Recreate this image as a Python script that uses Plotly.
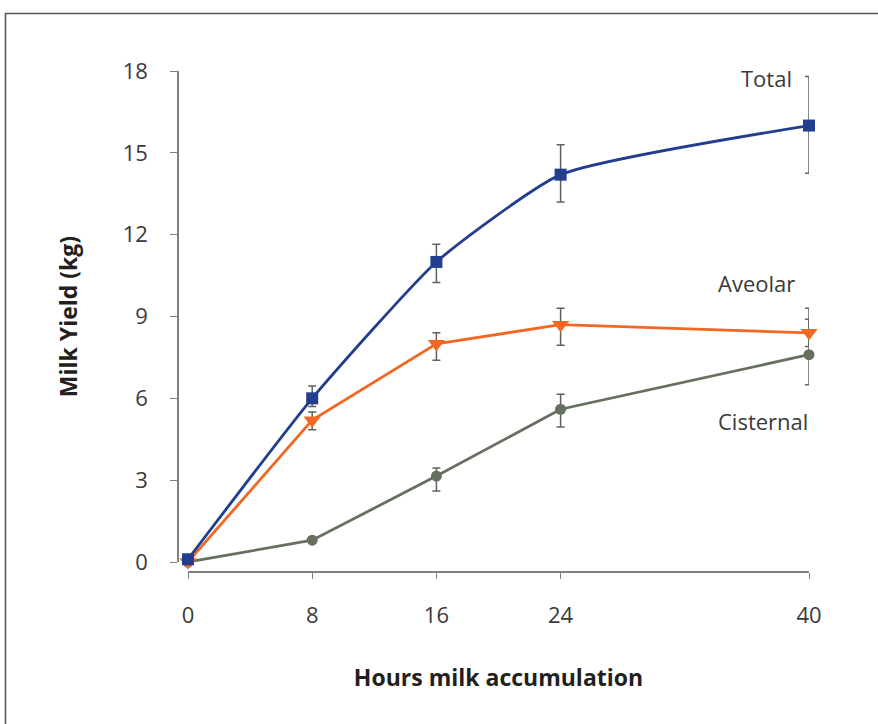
import plotly.graph_objects as go

hours = [0, 8, 16, 24, 40]

total = [0.1, 6.0, 11.0, 14.2, 16.0]
total_err_plus = [0.0, 0.45, 0.65, 1.1, 1.8]
total_err_minus = [0.0, 0.3, 0.75, 1.0, 1.75]

aveolar = [0.0, 5.2, 8.0, 8.7, 8.4]
aveolar_err_plus = [0.0, 0.3, 0.4, 0.6, 0.9]
aveolar_err_minus = [0.0, 0.35, 0.6, 0.75, 0.5]

cisternal = [0.0, 0.8, 3.15, 5.6, 7.6]
cisternal_err_plus = [0.0, 0.0, 0.3, 0.55, 1.3]
cisternal_err_minus = [0.0, 0.0, 0.55, 0.65, 1.1]

y_ticks = [0, 3, 6, 9, 12, 15, 18]
x_ticks = [0, 8, 16, 24, 40]
series_labels = ["Total", "Aveolar", "Cisternal"]

# page body margin is removed by post_script, so figure px == screenshot px
W, H = 878, 724
AX_LEFT, AX_RIGHT, AX_TOP, AX_BOTTOM = 178, 809, 71, 572
ML = AX_LEFT
MT = AX_TOP
MR = W - AX_RIGHT
MB = H - AX_BOTTOM
PW, PH = W - ML - MR, H - MT - MB


def px(x, y):
    """screenshot pixel -> paper fraction"""
    return (x - ML) / PW, (H - MB - y) / PH


BLUE = "#233e8e"
ORANGE = "#f26722"
GREY = "#66705f"
ERR = "#5b6457"
FONT = "Open Sans"

fig = go.Figure()


def add(y, ep, em, color, symbol, size, shape, smoothing=None, name=""):
    line = dict(color=color, width=2.8, shape=shape)
    if smoothing is not None:
        line["smoothing"] = smoothing
    fig.add_trace(go.Scatter(
        x=hours, y=y, mode="lines+markers", name=name,
        line=line,
        marker=dict(symbol=symbol, size=size, color=color),
        error_y=dict(type="data", symmetric=False, array=ep, arrayminus=em,
                     color=ERR, thickness=1.5, width=4),
        cliponaxis=False, showlegend=False,
    ))


add(cisternal, cisternal_err_plus, cisternal_err_minus, GREY, "circle", 11, "linear", name="Cisternal")
add(aveolar, aveolar_err_plus, aveolar_err_minus, ORANGE, "triangle-down", 15, "linear", name="Aveolar")
add(total, total_err_plus, total_err_minus, BLUE, "square", 12, "spline", 0.5, name="Total")

ann_pos = {"Total": (766, 78), "Aveolar": (756, 283), "Cisternal": (763, 421)}
for lab in series_labels:
    ax, ay = px(*ann_pos[lab])
    fig.add_annotation(x=ax, y=ay, xref="paper", yref="paper", text=lab,
                       showarrow=False, xanchor="center", yanchor="middle",
                       font=dict(family=FONT, size=22, color="#3a3a3a"))

# frame
fx0, fy1 = px(5.5, 13.5)
fx1, fy0 = px(W + 30, H + 30)
fig.add_shape(type="rect", xref="paper", yref="paper", x0=fx0, x1=fx1, y0=fy0, y1=fy1,
              line=dict(color="#555a52", width=1.6), fillcolor="rgba(0,0,0,0)", layer="above")

fig.update_layout(
    width=W, height=H,
    margin=dict(l=ML, r=MR, t=MT, b=MB, autoexpand=False),
    paper_bgcolor="white", plot_bgcolor="white",
    font=dict(family=FONT, color="#3a3a3a"),
    xaxis=dict(
        range=[0, 40], domain=[10 / PW, 1], anchor="free", position=0,
        tickmode="array", tickvals=x_ticks, ticktext=[str(t) for t in x_ticks],
        showline=True, linecolor="#808080", linewidth=1.6,
        ticks="outside", ticklen=6, tickcolor="#808080", tickwidth=1.3,
        showgrid=False, zeroline=False,
        tickfont=dict(family=FONT, size=22, color="#3a3a3a"),
        ticklabelstandoff=18,
        title=dict(text="<b>Hours milk accumulation</b>", standoff=41,
                   font=dict(family=FONT, size=23, color="#231f20")),
    ),
    yaxis=dict(
        range=[0, 18], domain=[10 / PH, 1], anchor="free", position=0,
        tickmode="array", tickvals=y_ticks, ticktext=[str(t) for t in y_ticks],
        showline=True, linecolor="#808080", linewidth=1.6,
        ticks="outside", ticklen=7, tickcolor="#808080", tickwidth=1.3,
        showgrid=False, zeroline=False,
        tickfont=dict(family=FONT, size=22, color="#3a3a3a"),
        ticklabelstandoff=18,
        title=dict(text="<b>Milk Yield (kg)</b>", standoff=38,
                   font=dict(family=FONT, size=23, color="#231f20")),
    ),
)

fig.write_html("out.html", config={"displayModeBar": False},
               post_script="document.body.style.margin='0';")
